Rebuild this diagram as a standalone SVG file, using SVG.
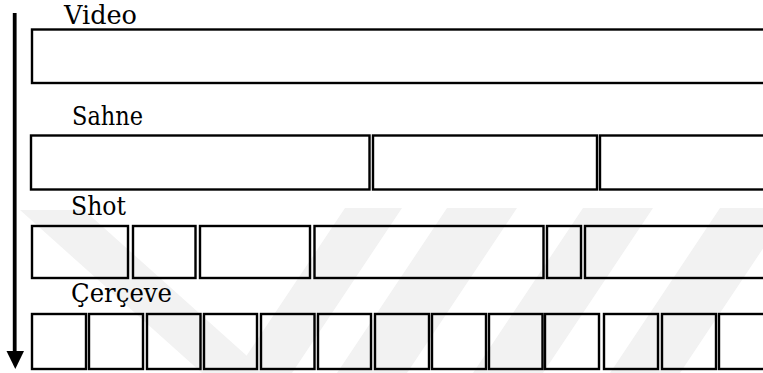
<svg xmlns="http://www.w3.org/2000/svg" width="763" height="373" viewBox="0 0 763 373">
  <style>
    .box { fill: none; stroke: #000; stroke-width: 2.4; }
    .lbl { font-family: 'DejaVu Serif', serif; font-size: 26px; fill: #000; }
    .wm { fill: #f2f2f2; }
  </style>
  <rect width="763" height="373" fill="#ffffff"/>
  <g id="watermark">
    <polygon class="wm" points="20,210 84,210 266,373 202,373"/>
    <polygon class="wm" points="345,208 402,208 292,373 235,373"/>
    <polygon class="wm" points="447,208 517,208 407,373 337,373"/>
    <polygon class="wm" points="583,208 653,208 543,373 473,373"/>
    <polygon class="wm" points="720,208 790,208 680,373 610,373"/>
  </g>
  <g id="connectors">
    <line x1="14.7" y1="13" x2="14.7" y2="353" stroke="#000" stroke-width="3.8"/>
    <polygon points="6.5,351 24,351 15.3,369" fill="#000"/>
  </g>
  <g id="video">
    <text class="lbl" x="64" y="23.5" textLength="73" lengthAdjust="spacingAndGlyphs">Video</text>
    <rect class="box" x="32" y="29.5" width="760" height="53.5"/>
  </g>
  <g id="sahne">
    <text class="lbl" x="72" y="125" textLength="71" lengthAdjust="spacingAndGlyphs">Sahne</text>
    <rect id="sahne-1" class="box" x="31" y="135.5" width="338.5" height="54"/>
    <rect id="sahne-2" class="box" x="373" y="135.5" width="224" height="54"/>
    <rect id="sahne-3" class="box" x="600" y="135.5" width="200" height="54"/>
  </g>
  <g id="shot">
    <text class="lbl" x="71" y="215" textLength="55" lengthAdjust="spacingAndGlyphs">Shot</text>
    <rect id="shot-1" class="box" x="32" y="226" width="96" height="52"/>
    <rect id="shot-2" class="box" x="133" y="226" width="62.5" height="52"/>
    <rect id="shot-3" class="box" x="200" y="226" width="110" height="52"/>
    <rect id="shot-4" class="box" x="314.5" y="226" width="229" height="52"/>
    <rect id="shot-5" class="box" x="547" y="226" width="34" height="52"/>
    <rect id="shot-6" class="box" x="585" y="226" width="215" height="52"/>
  </g>
  <g id="cerceve">
    <text class="lbl" x="71" y="302" textLength="101" lengthAdjust="spacingAndGlyphs">Çerçeve</text>
    <rect id="c-1" class="box" x="32" y="314" width="54" height="55"/>
    <rect id="c-2" class="box" x="89" y="314" width="54" height="55"/>
    <rect id="c-3" class="box" x="147" y="314" width="53.5" height="55"/>
    <rect id="c-4" class="box" x="204" y="314" width="53" height="55"/>
    <rect id="c-5" class="box" x="261" y="314" width="53.5" height="55"/>
    <rect id="c-6" class="box" x="318" y="314" width="53" height="55"/>
    <rect id="c-7" class="box" x="375" y="314" width="54" height="55"/>
    <rect id="c-8" class="box" x="432" y="314" width="54" height="55"/>
    <rect id="c-9" class="box" x="489" y="314" width="53.5" height="55"/>
    <rect id="c-10" class="box" x="545" y="314" width="54" height="55"/>
    <rect id="c-11" class="box" x="604" y="314" width="54" height="55"/>
    <rect id="c-12" class="box" x="662" y="314" width="54" height="55"/>
    <rect id="c-13" class="box" x="719" y="314" width="81" height="55"/>
  </g>
</svg>
